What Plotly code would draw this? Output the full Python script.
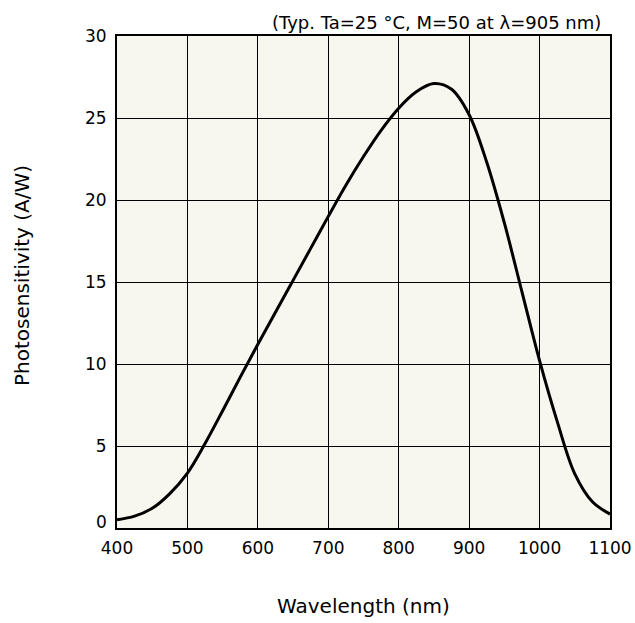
import plotly.graph_objects as go

wavelength = [400, 425, 450, 475, 500, 525, 550, 575, 600, 625, 650, 675, 700, 725, 750, 775, 800, 825, 850, 875, 900, 925, 950, 975, 1000, 1025, 1050, 1075, 1100]
sensitivity = [0.5, 0.72, 1.2, 2.1, 3.35, 5.15, 7.15, 9.2, 11.2, 13.15, 15.1, 17.05, 19.0, 20.9, 22.65, 24.25, 25.6, 26.6, 27.1, 26.75, 25.2, 22.3, 18.6, 14.4, 10.2, 6.5, 3.3, 1.6, 0.85]

x_ticks = [400, 500, 600, 700, 800, 900, 1000, 1100]
y_ticks = [0, 5, 10, 15, 20, 25, 30]
y_ticktext = ["", "5", "10", "15", "20", "25", "30"]

font = "DejaVu Sans, Verdana, sans-serif"

fig = go.Figure()
fig.add_trace(go.Scatter(x=wavelength, y=sensitivity, mode="lines",
                         line=dict(color="black", width=3, shape="spline", smoothing=1.0),
                         showlegend=False, hoverinfo="skip"))

fig.update_layout(
    width=635, height=623,
    margin=dict(l=117, r=25, t=36, b=95),
    paper_bgcolor="white",
    plot_bgcolor="#f7f6ef",
    font=dict(family=font, size=17, color="black"),
    xaxis=dict(range=[400, 1100], tickvals=x_ticks, showgrid=True, gridcolor="black", gridwidth=1,
               showline=True, linecolor="black", linewidth=2, mirror=True, ticks="",
               ticklabelstandoff=4, automargin=False, zeroline=False,
               tickfont=dict(size=17)),
    yaxis=dict(range=[0, 30], tickvals=y_ticks, ticktext=y_ticktext, showgrid=True,
               gridcolor="black", gridwidth=1,
               showline=True, linecolor="black", linewidth=2, mirror=True, ticks="",
               ticklabelstandoff=5, automargin=False, zeroline=False,
               tickfont=dict(size=17)),
    annotations=[
        dict(text="(Typ. Ta=25 °C, M=50 at λ=905 nm)", xref="paper", yref="paper",
             x=1, y=1, xanchor="right", yanchor="bottom", xshift=-7, yshift=1,
             showarrow=False, font=dict(size=18)),
        dict(text="0", xref="paper", yref="y", x=0, y=0, xanchor="right", yanchor="middle",
             xshift=-8, yshift=6, showarrow=False, font=dict(size=17)),
        dict(text="Wavelength (nm)", xref="paper", yref="paper", x=0.5, y=0,
             xanchor="center", yanchor="middle", yshift=-78, showarrow=False,
             font=dict(size=20)),
        dict(text="Photosensitivity (A/W)", xref="paper", yref="paper", x=0, y=0.5,
             xanchor="center", yanchor="middle", xshift=-95, yshift=6, textangle=-90,
             showarrow=False, font=dict(size=20)),
    ],
)

fig.write_html("out.html")
